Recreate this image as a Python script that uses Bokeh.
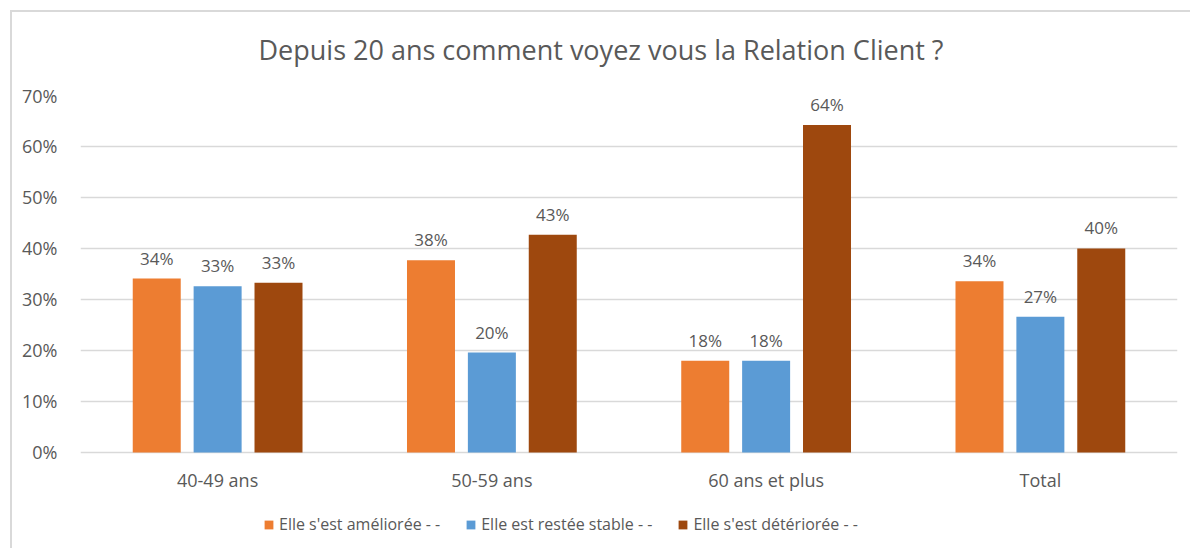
from bokeh.plotting import figure
from bokeh.models import ColumnDataSource, FactorRange, Legend, LegendItem, LabelSet, NumeralTickFormatter, Range1d
from bokeh.core.properties import value
from bokeh.transform import dodge
from bokeh.embed import file_html
from bokeh.resources import INLINE

categories = ["40-49 ans", "50-59 ans", "60 ans et plus", "Total"]
series_names = ["Elle s'est améliorée - -", "Elle est restée stable - -", "Elle s'est détériorée - -"]
ameliore = [34.1, 37.7, 18.0, 33.6]
stable = [32.6, 19.6, 18.0, 26.6]
deteriore = [33.3, 42.7, 64.2, 40.0]
y_ticks = [0, 10, 20, 30, 40, 50, 60, 70]
colors = ["#ED7D31", "#5B9BD5", "#9E480E"]

FONT = "Open Sans"
GREY = "#595959"

src = ColumnDataSource(dict(
    cat=categories,
    a=[v / 100 for v in ameliore],
    b=[v / 100 for v in stable],
    c=[v / 100 for v in deteriore],
    la=[f"{round(v)}%" for v in ameliore],
    lb=[f"{round(v)}%" for v in stable],
    lc=[f"{round(v)}%" for v in deteriore],
))
cat_src = ColumnDataSource(dict(cat=categories, base=[0] * len(categories)))

# the frame extends below 0% to hold the category labels and the legend
p = figure(x_range=FactorRange(*categories), y_range=Range1d(-0.1824, 0.70),
           frame_width=1097, frame_height=450, output_backend="svg", toolbar_location=None,
           min_border_left=80, min_border_right=13, min_border_top=95, min_border_bottom=3)

p.title.text = "Depuis 20 ans comment voyez vous la Relation Client ?"
p.title.align = "left"
p.title.text_font = FONT
p.title.text_font_size = "27px"
p.title.text_font_style = "normal"
p.title.text_color = GREY
p.title.offset = 178
p.title.standoff = 56

p.outline_line_color = None
p.border_fill_color = None
p.x_range.range_padding = 0.0
p.x_range.group_padding = 0

offs = [-0.222, 0.0, 0.222]
w = 0.175
renderers = []
for key, lab, col, off in zip(["a", "b", "c"], ["la", "lb", "lc"], colors, offs):
    r = p.vbar(x=dodge("cat", off, range=p.x_range), top=key, width=w, source=src,
               fill_color=col, line_color=None)
    renderers.append(r)
    ls = LabelSet(x=dodge("cat", off, range=p.x_range), y=key, text=lab, source=src,
                  text_align="center", text_baseline="bottom", y_offset=9,
                  text_font=value(FONT), text_font_size=value("17px"), text_color=GREY)
    p.add_layout(ls)

# category labels under the 0% line
p.add_layout(LabelSet(x="cat", y="base", text="cat", source=cat_src,
                      text_align="center", text_baseline="middle", y_offset=-28,
                      text_font=value(FONT), text_font_size=value("18px"), text_color=GREY))

p.xaxis.visible = False
p.yaxis.formatter = NumeralTickFormatter(format="0%")
p.yaxis.ticker = [t / 100 for t in y_ticks]
p.yaxis.axis_line_color = None
p.yaxis.major_tick_line_color = None
p.yaxis.minor_tick_line_color = None
p.yaxis.major_label_text_font = FONT
p.yaxis.major_label_text_font_size = "18px"
p.yaxis.major_label_text_color = GREY
p.yaxis.major_label_standoff = 17

p.xgrid.grid_line_color = None
p.ygrid.grid_line_color = "#D9D9D9"
p.ygrid.grid_line_width = 1.5

legend = Legend(items=[LegendItem(label=n, renderers=[r]) for n, r in zip(series_names, renderers)],
                orientation="horizontal", location=(183, 10),
                label_text_font=FONT, label_text_font_size="16px", label_text_color=GREY,
                glyph_width=11, glyph_height=11, label_standoff=5, spacing=25,
                border_line_color=None, background_fill_alpha=0, margin=0, padding=4)
p.add_layout(legend, "center")

p.styles = {"box-shadow": "inset 10px 10px 0 #FFFFFF, inset 12px 12px 0 #D9D9D9"}

open("out.html", "w").write(file_html(p, INLINE))
